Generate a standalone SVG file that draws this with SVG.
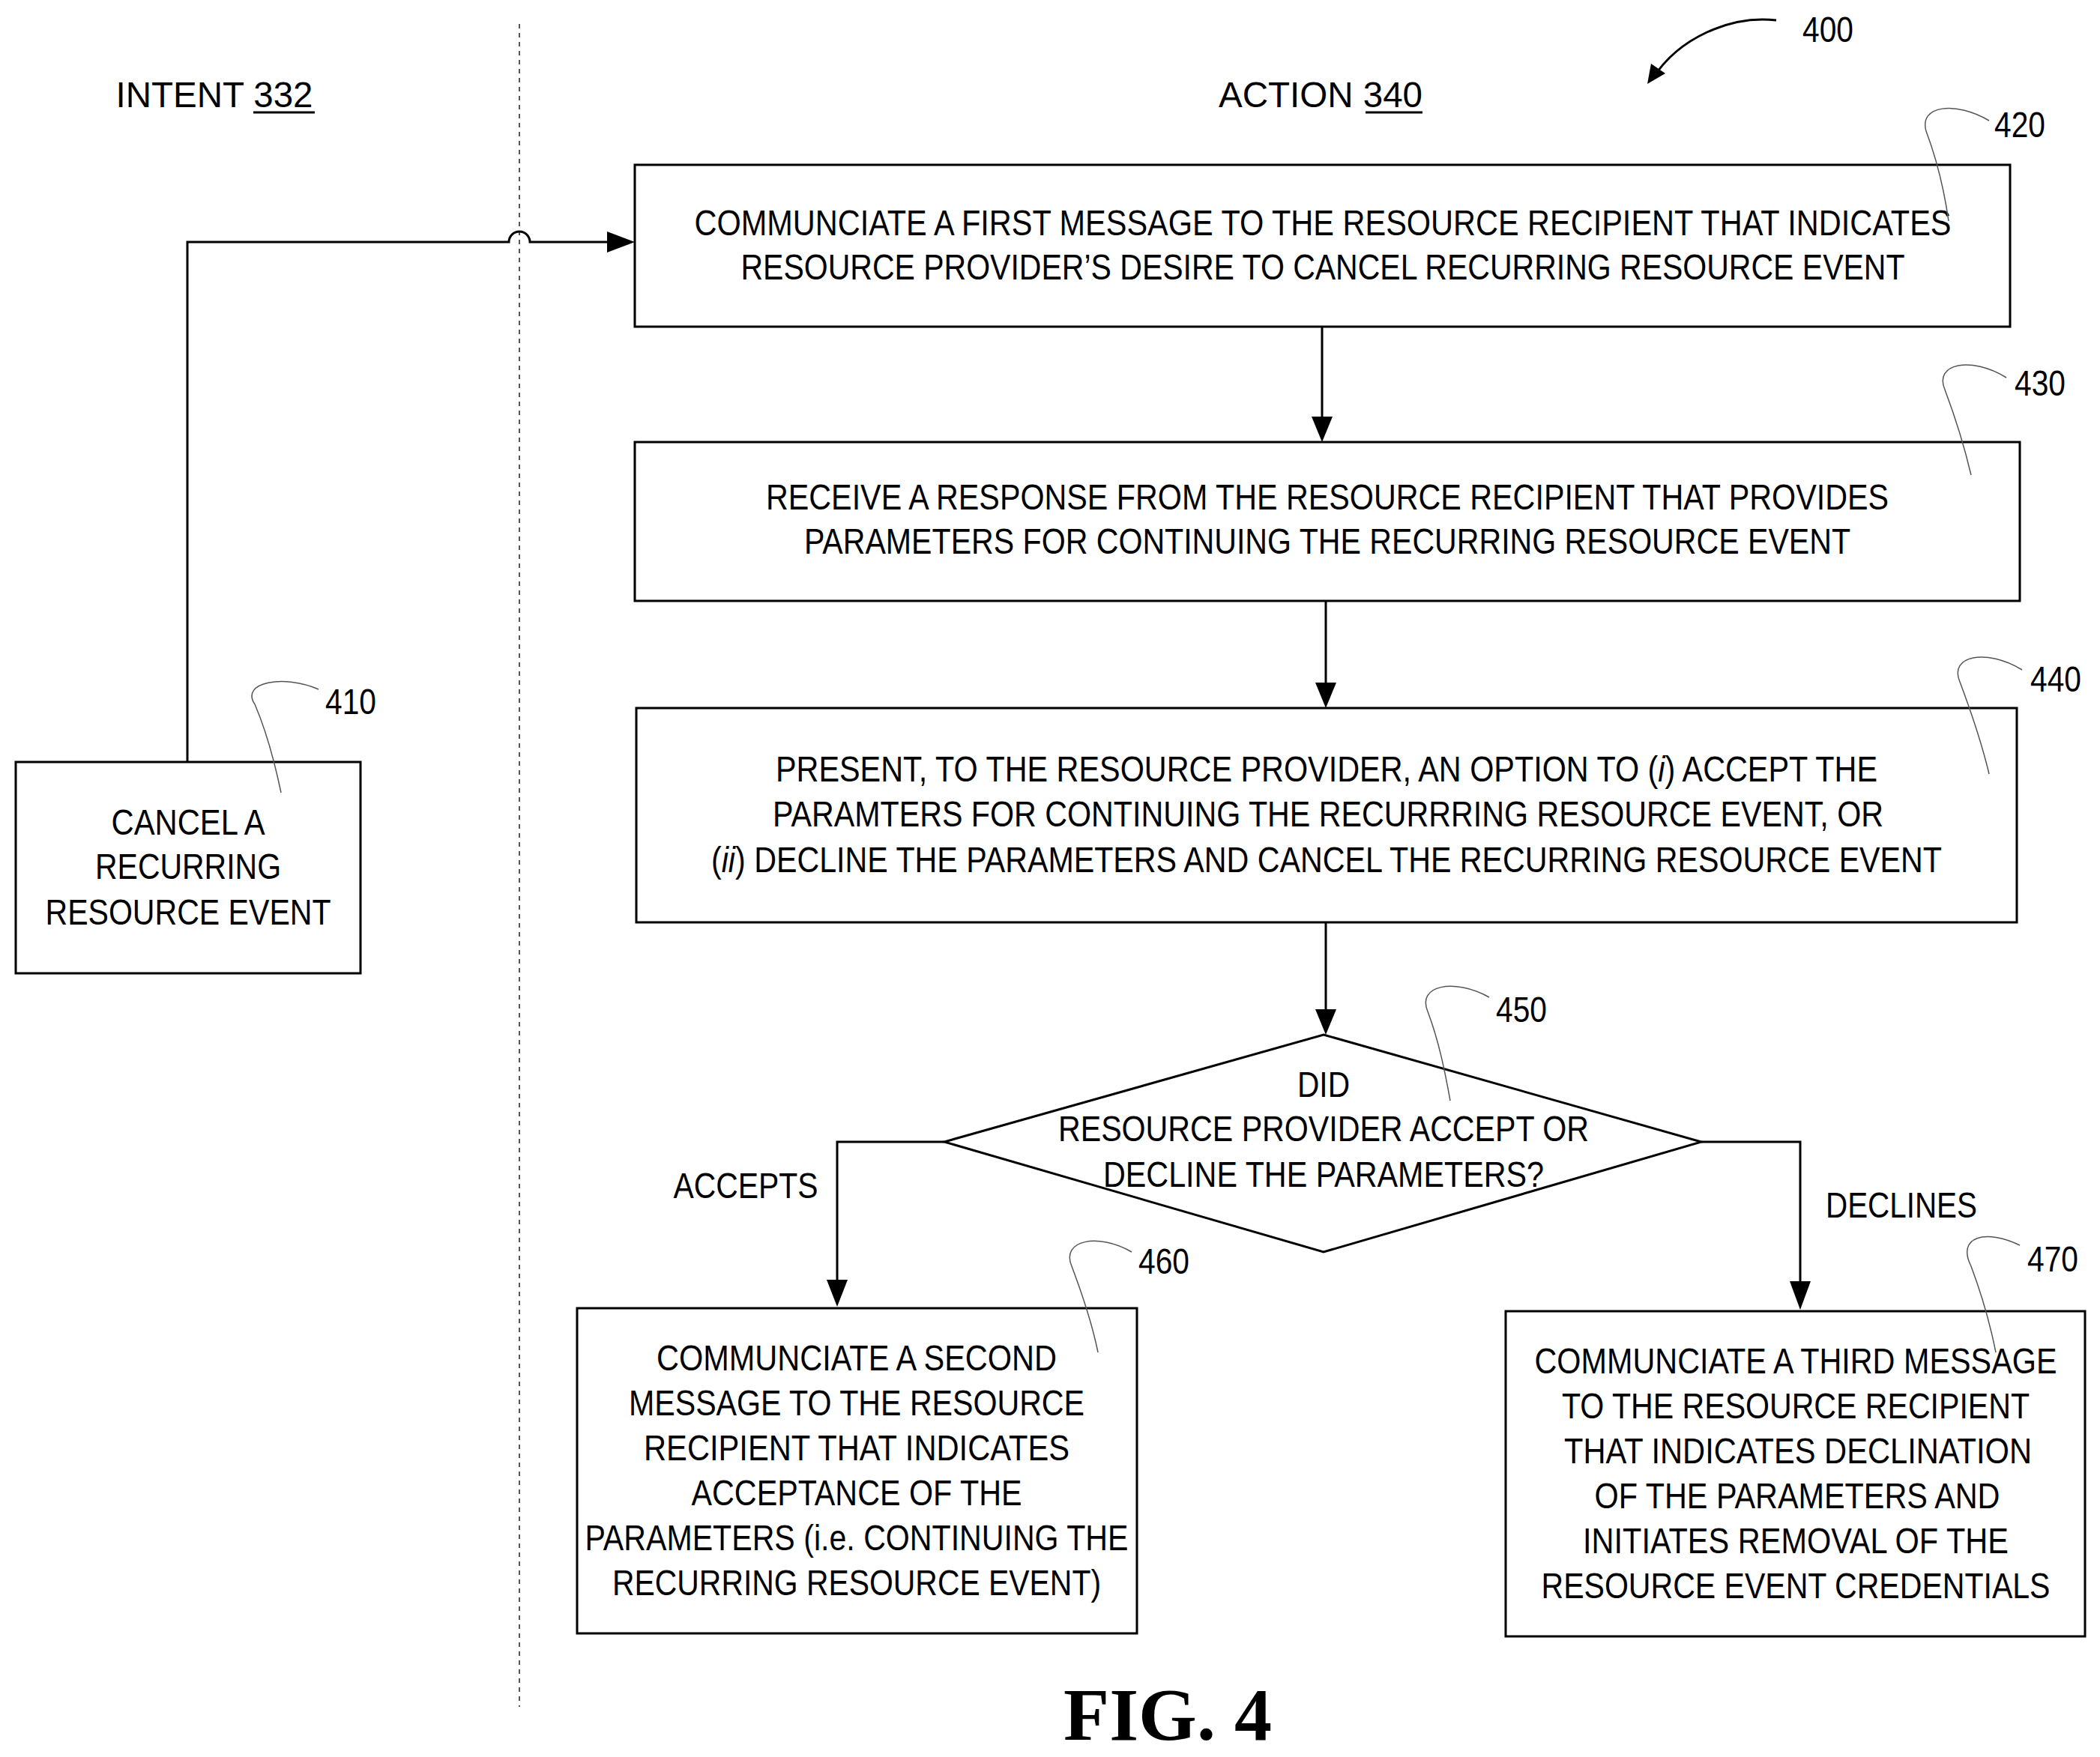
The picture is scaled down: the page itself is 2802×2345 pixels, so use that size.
<svg xmlns="http://www.w3.org/2000/svg" width="2802" height="2345" viewBox="0 0 2802 2345">
<style>
.b{fill:#fff;stroke:#000;stroke-width:3}
.t{font-family:"Liberation Sans",Arial,sans-serif;font-size:48px;fill:#000;text-anchor:middle}
.c{fill:none;stroke:#000;stroke-width:3}
.l{fill:none;stroke:#555;stroke-width:1.5}
</style>
<defs><marker id="a" markerWidth="12" markerHeight="12" refX="11" refY="6" orient="auto" markerUnits="userSpaceOnUse" viewBox="0 0 12 12"><path d="M0,0 L12,6 L0,12 z" fill="#000"/></marker>
<marker id="ah" markerWidth="28" markerHeight="44" refX="40" refY="14" orient="auto" markerUnits="userSpaceOnUse" viewBox="0 0 42 28"><path d="M0,0 L42,14 L0,28 z" fill="#000"/></marker></defs>
<rect width="2802" height="2345" fill="#fff"/>
<line x1="693" y1="32" x2="693" y2="2278" stroke="#555" stroke-width="2" stroke-dasharray="6,6"/>
<g id="headers">
<text class="t" x="286" y="143" textLength="263" lengthAdjust="spacingAndGlyphs">INTENT 332</text>
<line x1="338" y1="150" x2="420" y2="150" stroke="#000" stroke-width="3"/>
<text class="t" x="1762" y="143" textLength="272" lengthAdjust="spacingAndGlyphs">ACTION 340</text>
<line x1="1822" y1="150" x2="1898" y2="150" stroke="#000" stroke-width="3"/>
<text class="t" x="2439" y="56" textLength="68" lengthAdjust="spacingAndGlyphs">400</text>
<path d="M2370,27 C2310,20 2240,50 2205,105" class="c" stroke-width="2"/>
<path d="M2198,112 L2203,85 L2222,98 z" fill="#000"/>
</g>
<g id="connectors">
<path class="c" d="M250,1017 V323 H679 A14,14 0 0 1 707,323 H810"/>
<path d="M810,309 L847,323 L810,337 z"/>
<path class="c" d="M1764,436 V560"/><path d="M1750,556 L1764,590 L1778,556 z"/>
<path class="c" d="M1769,802 V915"/><path d="M1755,911 L1769,945 L1783,911 z"/>
<path class="c" d="M1769,1231 V1351"/><path d="M1755,1347 L1769,1381 L1783,1347 z"/>
<path class="c" d="M1260,1524 H1117 V1712"/><path d="M1103,1708 L1117,1744 L1131,1708 z"/>
<path class="c" d="M2270,1524 H2402 V1714"/><path d="M2388,1710 L2402,1748 L2416,1710 z"/>
<text class="t" x="995" y="1599" textLength="193" lengthAdjust="spacingAndGlyphs">ACCEPTS</text>
<text class="t" x="2537" y="1625" textLength="202" lengthAdjust="spacingAndGlyphs">DECLINES</text>
</g>
<g id="n410">
<rect class="b" x="21" y="1017" width="460" height="282"/>
<text class="t" x="251" y="1114" textLength="205" lengthAdjust="spacingAndGlyphs">CANCEL A</text>
<text class="t" x="251" y="1173" textLength="248" lengthAdjust="spacingAndGlyphs">RECURRING</text>
<text class="t" x="251" y="1234" textLength="381" lengthAdjust="spacingAndGlyphs">RESOURCE EVENT</text>
<text class="t" x="468" y="953" textLength="68" lengthAdjust="spacingAndGlyphs">410</text>
<path class="l" d="M425,920 C380,900 320,910 340,940 C355,975 365,1010 375,1058"/>
</g>
<g id="n420">
<rect class="b" x="847" y="220" width="1835" height="216"/>
<text class="t" x="1765" y="314" textLength="1677" lengthAdjust="spacingAndGlyphs">COMMUNCIATE A FIRST MESSAGE TO THE RESOURCE RECIPIENT THAT INDICATES</text>
<text class="t" x="1765" y="373" textLength="1553" lengthAdjust="spacingAndGlyphs">RESOURCE PROVIDER’S DESIRE TO CANCEL RECURRING RESOURCE EVENT</text>
<text class="t" x="2695" y="183" textLength="68" lengthAdjust="spacingAndGlyphs">420</text>
<path class="l" d="M2654,161 C2610,135 2560,140 2570,175 C2585,215 2595,260 2600,295"/>
</g>
<g id="n430">
<rect class="b" x="847" y="590" width="1848" height="212"/>
<text class="t" x="1771" y="680" textLength="1498" lengthAdjust="spacingAndGlyphs">RECEIVE A RESPONSE FROM THE RESOURCE RECIPIENT THAT PROVIDES</text>
<text class="t" x="1771" y="739" textLength="1396" lengthAdjust="spacingAndGlyphs">PARAMETERS FOR CONTINUING THE RECURRING RESOURCE EVENT</text>
<text class="t" x="2722" y="528" textLength="68" lengthAdjust="spacingAndGlyphs">430</text>
<path class="l" d="M2677,504 C2630,475 2580,485 2595,520 C2610,560 2622,600 2630,634"/>
</g>
<g id="n440">
<rect class="b" x="849" y="945" width="1842" height="286"/>
<text class="t" x="1770" y="1043" textLength="1470" lengthAdjust="spacingAndGlyphs">PRESENT, TO THE RESOURCE PROVIDER, AN OPTION TO (<tspan font-style="italic">i</tspan>) ACCEPT THE</text>
<text class="t" x="1772" y="1103" textLength="1482" lengthAdjust="spacingAndGlyphs">PARAMTERS FOR CONTINUING THE RECURRRING RESOURCE EVENT, OR</text>
<text class="t" x="1770" y="1164" textLength="1642" lengthAdjust="spacingAndGlyphs">(<tspan font-style="italic">ii</tspan>) DECLINE THE PARAMETERS AND CANCEL THE RECURRING RESOURCE EVENT</text>
<text class="t" x="2743" y="923" textLength="68" lengthAdjust="spacingAndGlyphs">440</text>
<path class="l" d="M2698,894 C2650,865 2600,875 2615,910 C2630,950 2645,995 2654,1033"/>
</g>
<g id="n450">
<polygon class="b" points="1766,1381 2270,1524 1766,1671 1260,1524"/>
<text class="t" x="1766" y="1464" textLength="70" lengthAdjust="spacingAndGlyphs">DID</text>
<text class="t" x="1766" y="1523" textLength="708" lengthAdjust="spacingAndGlyphs">RESOURCE PROVIDER ACCEPT OR</text>
<text class="t" x="1766" y="1584" textLength="588" lengthAdjust="spacingAndGlyphs">DECLINE THE PARAMETERS?</text>
<text class="t" x="2030" y="1364" textLength="68" lengthAdjust="spacingAndGlyphs">450</text>
<path class="l" d="M1987,1331 C1940,1305 1890,1315 1905,1350 C1920,1390 1928,1430 1935,1469"/>
</g>
<g id="n460">
<rect class="b" x="770" y="1746" width="747" height="434"/>
<text class="t" x="1143" y="1829" textLength="534" lengthAdjust="spacingAndGlyphs">COMMUNCIATE A SECOND</text>
<text class="t" x="1143" y="1889" textLength="608" lengthAdjust="spacingAndGlyphs">MESSAGE TO THE RESOURCE</text>
<text class="t" x="1143" y="1949" textLength="568" lengthAdjust="spacingAndGlyphs">RECIPIENT THAT INDICATES</text>
<text class="t" x="1143" y="2009" textLength="441" lengthAdjust="spacingAndGlyphs">ACCEPTANCE OF THE</text>
<text class="t" x="1143" y="2069" textLength="725" lengthAdjust="spacingAndGlyphs">PARAMETERS (i.e. CONTINUING THE</text>
<text class="t" x="1143" y="2129" textLength="652" lengthAdjust="spacingAndGlyphs">RECURRING RESOURCE EVENT)</text>
<text class="t" x="1553" y="1700" textLength="68" lengthAdjust="spacingAndGlyphs">460</text>
<path class="l" d="M1510,1671 C1465,1645 1415,1655 1430,1690 C1445,1730 1458,1770 1465,1805"/>
</g>
<g id="n470">
<rect class="b" x="2009" y="1750" width="773" height="434"/>
<text class="t" x="2396" y="1833" textLength="697" lengthAdjust="spacingAndGlyphs">COMMUNCIATE A THIRD MESSAGE</text>
<text class="t" x="2396" y="1893" textLength="624" lengthAdjust="spacingAndGlyphs">TO THE RESOURCE RECIPIENT</text>
<text class="t" x="2399" y="1953" textLength="624" lengthAdjust="spacingAndGlyphs">THAT INDICATES DECLINATION</text>
<text class="t" x="2398" y="2013" textLength="541" lengthAdjust="spacingAndGlyphs">OF THE PARAMETERS AND</text>
<text class="t" x="2396" y="2073" textLength="568" lengthAdjust="spacingAndGlyphs">INITIATES REMOVAL OF THE</text>
<text class="t" x="2396" y="2133" textLength="679" lengthAdjust="spacingAndGlyphs">RESOURCE EVENT CREDENTIALS</text>
<text class="t" x="2739" y="1697" textLength="68" lengthAdjust="spacingAndGlyphs">470</text>
<path class="l" d="M2695,1662 C2650,1640 2610,1650 2630,1690 C2645,1730 2656,1770 2663,1805"/>
</g>
<text x="1558" y="2322" font-family="Liberation Serif,serif" font-weight="bold" font-size="100" text-anchor="middle">FIG. 4</text>
</svg>
